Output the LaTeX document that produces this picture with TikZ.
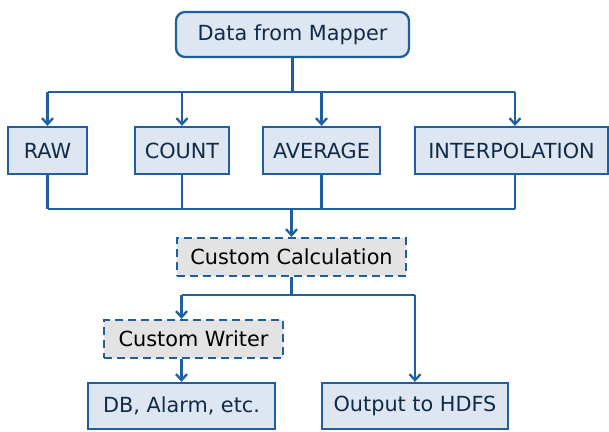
\documentclass[tikz,border=0pt]{standalone}
\usepackage{fontspec}
\setmainfont{DejaVu Sans}
\usetikzlibrary{arrows.meta}
\definecolor{edgeblue}{HTML}{1F5FA0}
\definecolor{boxfill}{HTML}{DEE6F1}
\definecolor{calcfill}{HTML}{E3E3E3}
\definecolor{navytext}{HTML}{0F2B4B}
\begin{document}
\begin{tikzpicture}[x=0.5pt,y=-0.5pt,
  box/.style={draw=edgeblue, fill=boxfill, line width=1.15pt, text=navytext, inner sep=0pt,
    font=\fontsize{10.4}{12}\selectfont},
  dashbox/.style={box, fill=calcfill, text=black, dash pattern=on 4pt off 2.5pt},
  link/.style={draw=edgeblue, line width=1.15pt},
  tip/.style={-{Straight Barb[length=3pt,width=5.5pt,line width=1.15pt]}}]
\useasboundingbox (0,0) rectangle (609,432);
\node[box, rounded corners=4.5pt, minimum width=116.5pt, minimum height=22.5pt] (1) at (292.5,34.5) {Data from Mapper};
\node[box, minimum width=39.5pt, minimum height=23.5pt] (2) at (47.5,150.5) {RAW};
\node[box, minimum width=47pt, minimum height=23.5pt] (3) at (182,150.5) {COUNT};
\node[box, minimum width=58.5pt, minimum height=23.5pt] (4) at (321.5,150.5) {AVERAGE};
\node[box, minimum width=96.5pt, minimum height=23.5pt] (5) at (511.5,150.5) {INTERPOLATION};
\node[dashbox, minimum width=114.5pt, minimum height=19pt] (6) at (291.5,257) {Custom Calculation};
\node[dashbox, minimum width=89.5pt, minimum height=19pt] (7) at (193.5,339) {Custom Writer};
\node[box, minimum width=93.5pt, minimum height=23pt] (8) at (181.5,406) {DB, Alarm, etc.};
\node[box, minimum width=93pt, minimum height=23pt] (9) at (415,406) {Output to HDFS};
\coordinate (top) at (0,92);
\coordinate (bot) at (0,209);
\coordinate (mid) at (0,295);
\coordinate (x5) at ([xshift=1.75pt]5.north);
\path[link] (1) -- (1 |- top);
\path[link] (2 |- top) -- (x5 |- top);
\path[link,tip] (2 |- top) -- (2);
\path[link,tip] (3 |- top) -- (3);
\path[link,tip] (4 |- top) -- (4);
\path[link,tip] (x5 |- top) -- (x5 |- 5.north);

\path[link] (2) -- (2 |- bot);
\path[link] (3) -- (3 |- bot);
\path[link] (4) -- (4 |- bot);
\path[link] (x5 |- 5.south) -- (x5 |- bot);
\path[link] (2 |- bot) -- (x5 |- bot);
\path[link,tip] (6 |- bot) -- (6);

\path[link] (6) -- (6 |- mid);
\path[link] (8 |- mid) -- (9 |- mid);
\path[link,tip] (8 |- mid) -- (8 |- 7.north);
\path[link,tip] (9 |- mid) -- (9);
\path[link,tip] (8 |- 7.south) -- (8);
\end{tikzpicture}
\end{document}
